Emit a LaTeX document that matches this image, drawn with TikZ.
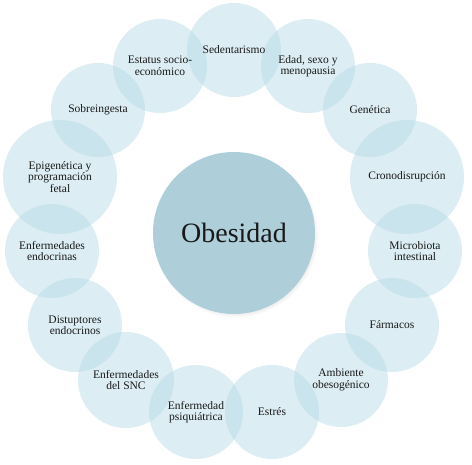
\documentclass[tikz,border=0pt]{standalone}
\usepackage{fontspec}
\setmainfont{Liberation Serif}
\usetikzlibrary{shadows,fadings}
\definecolor{ringfill}{RGB}{185,219,231}
\definecolor{hubfill}{RGB}{174,207,217}
\definecolor{txt}{RGB}{25,25,25}
\begin{document}
\begin{tikzpicture}[x=1pt,y=-1pt,
  ring/.style={circle, fill=ringfill, fill opacity=0.5, inner sep=0pt},
  lab/.style={align=center, text=txt, font=\fontsize{11.5}{11.5}\selectfont, inner sep=0pt},
  hub/.style={circle, fill=hubfill, minimum size=162pt, inner sep=0pt,
    circular drop shadow={shadow xshift=1.5pt, shadow yshift=-2pt, opacity=0.35, shadow scale=1.02}},
  hublab/.style={text=txt, font=\fontsize{28}{30}\selectfont}]
\useasboundingbox (0,0) rectangle (472,465);
\foreach \n/\x/\y/\r in {sed/234/50/47, eda/308/66/47, gen/370/110/47, cro/407/177/57,
    mic/415/251/47, far/392/325/47, amb/341/380/47, est/272/412/47, psi/196/412/47,
    snc/126/380/48, dis/75/325/47, end/52/251/47, epi/60/177/57, sob/98/110/47, sta/160/66/47}{
  \node[ring, minimum size={2*\r pt}] (c-\n) at (\x,\y) {};
}
\foreach \n/\t in {sed/Sedentarismo, eda/{Edad, sexo y\\menopausia}, gen/Genética,
    cro/Cronodisrupción, mic/{Microbiota\\intestinal}, far/Fármacos,
    amb/{Ambiente\\obesogénico}, est/Estrés, psi/{Enfermedad\\psiquiátrica},
    snc/{Enfermedades\\del SNC}, dis/{Distuptores\\endocrinos}, end/{Enfermedades\\endocrinas},
    epi/{Epigenética y\\programación\\fetal}, sob/Sobreingesta, sta/{Estatus socio-\\económico}}{
  \node[lab] (t-\n) at (c-\n) {\t};
}
\node[hub] (hub) at (234,233) {};
\node[hublab] (hubtxt) at (hub) {Obesidad};
\end{tikzpicture}
\end{document}
